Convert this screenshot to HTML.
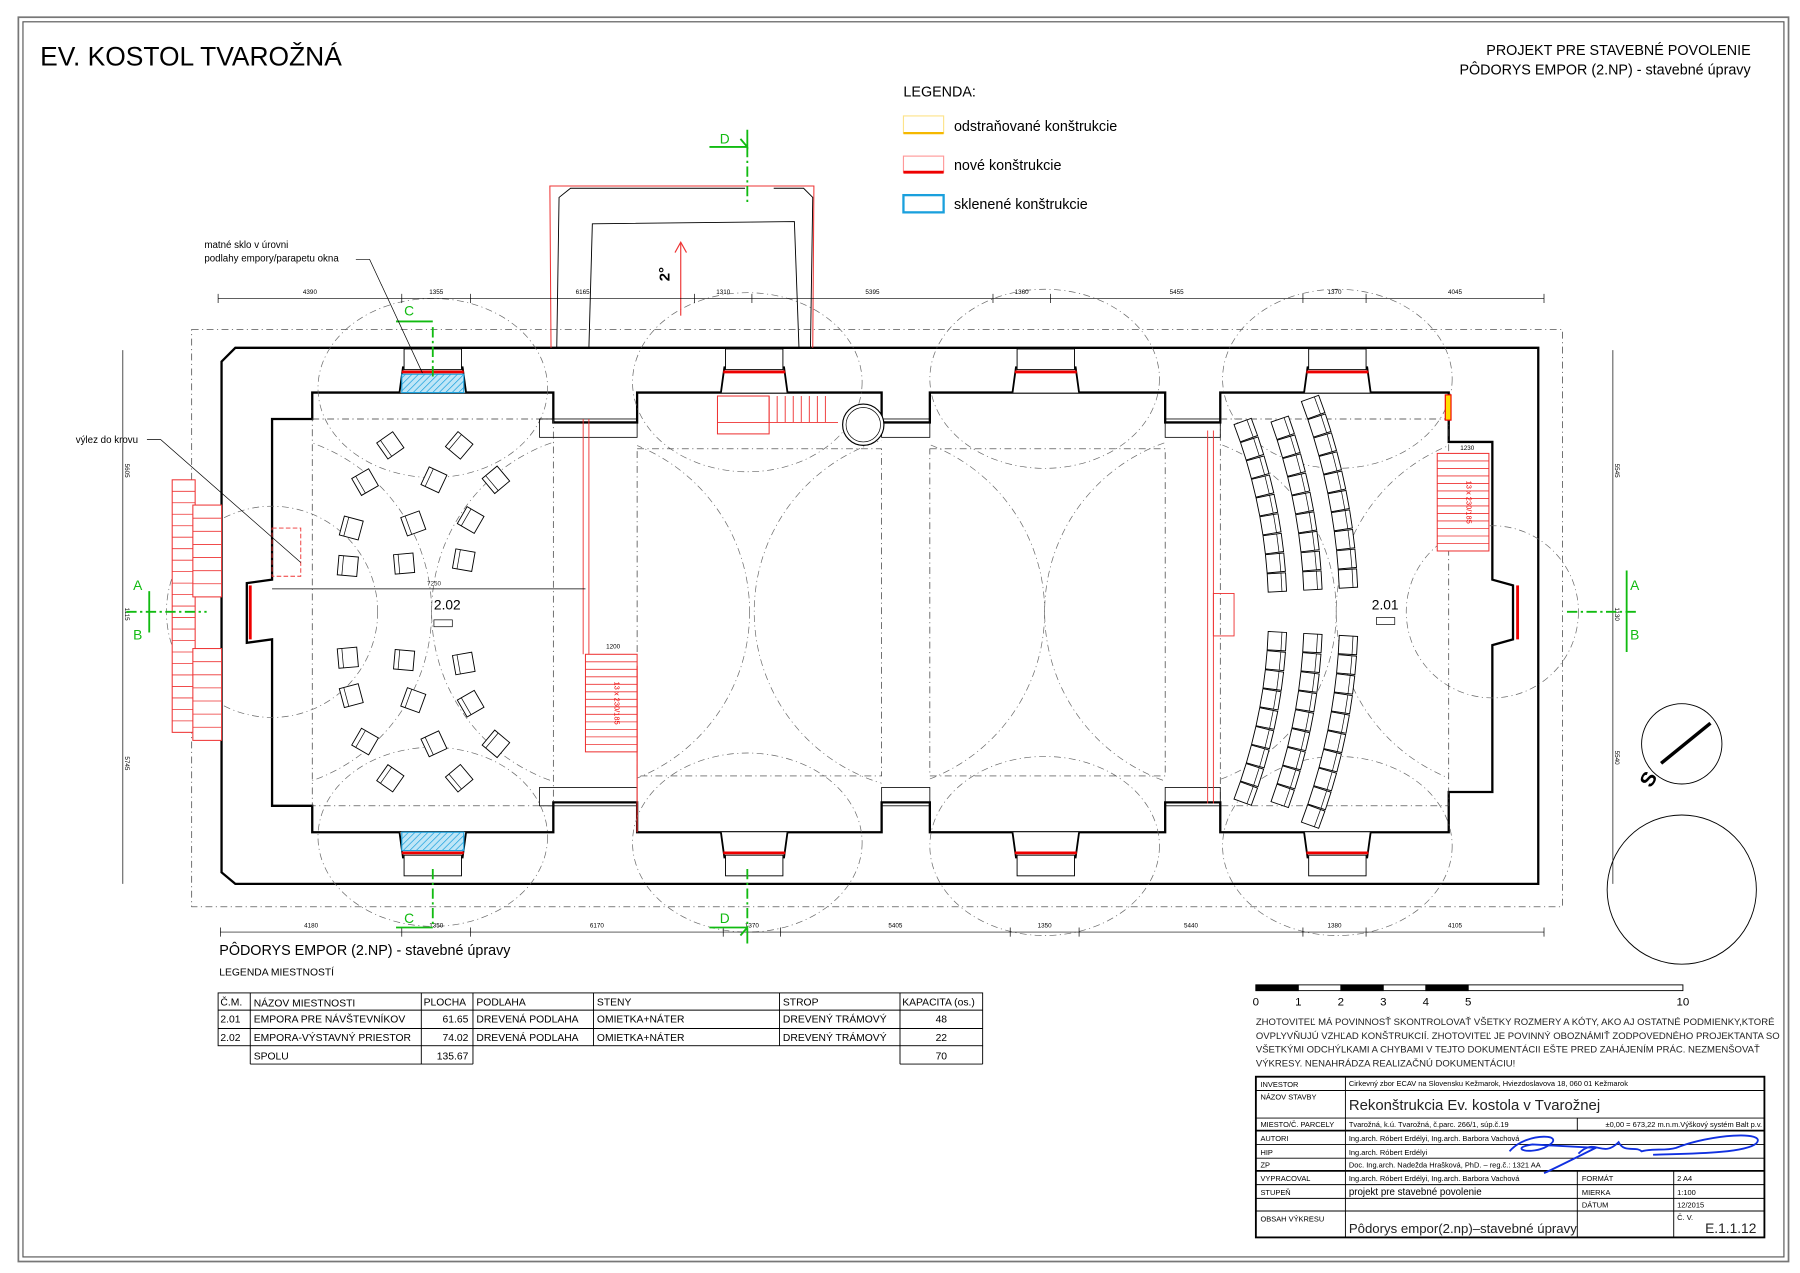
<!DOCTYPE html>
<html><head><meta charset="utf-8"><style>
html,body{margin:0;padding:0;background:#fff}
svg{display:block}
text{font-family:"Liberation Sans",sans-serif}
</style></head><body>
<svg id="s" width="1800" height="1273" viewBox="0 0 1568 1109" preserveAspectRatio="none" xmlns="http://www.w3.org/2000/svg">
<defs><pattern id="hatch" width="4" height="4" patternUnits="userSpaceOnUse" patternTransform="rotate(45)"><rect width="4" height="4" fill="#bfe6f7"/><line x1="0" y1="0" x2="0" y2="4" stroke="#1aa0dd" stroke-width="1.2"/></pattern>
<clipPath id="c1"><rect x="272" y="380" width="210" height="307"/></clipPath>
<clipPath id="c2"><rect x="555" y="380" width="213" height="307"/></clipPath>
<clipPath id="c3"><rect x="810" y="380" width="205" height="307"/></clipPath>
<clipPath id="c4"><rect x="1063" y="380" width="199" height="307"/></clipPath>
</defs>
<rect x="0" y="0" width="1568" height="1109" fill="#fff"/>
<rect x="16" y="15" width="1542" height="1084" fill="none" stroke="#777" stroke-width="1.5"/>
<rect x="20" y="19" width="1534" height="1076" fill="none" stroke="#555" stroke-width="1"/>
<text x="35" y="57" font-size="23">EV. KOSTOL TVAROŽNÁ</text>
<text x="1525" y="48" font-size="12.5" text-anchor="end">PROJEKT PRE STAVEBNÉ POVOLENIE</text>
<text x="1525" y="65" font-size="12.5" text-anchor="end">PÔDORYS EMPOR (2.NP) - stavebné úpravy</text>
<text x="787" y="84" font-size="12.5">LEGENDA:</text>
<rect x="787" y="101" width="35" height="15" fill="none" stroke="#fde38a" stroke-width="1"/><line x1="787" y1="116" x2="822" y2="116" stroke="#f5b800" stroke-width="2"/>
<text x="831" y="114" font-size="12.5">odstraňované konštrukcie</text>
<rect x="787" y="136" width="35" height="14" fill="none" stroke="#f99" stroke-width="1"/><line x1="787" y1="150" x2="822" y2="150" stroke="#e00" stroke-width="2.5"/>
<text x="831" y="148" font-size="12.5">nové konštrukcie</text>
<rect x="787" y="170" width="35" height="15" fill="none" stroke="#1aa0dd" stroke-width="2"/>
<text x="831" y="182" font-size="12.5">sklenené konštrukcie</text>
<g id="plan" fill="none"></g>
<text x="191" y="832" font-size="12.5">PÔDORYS EMPOR (2.NP) - stavebné úpravy</text>
<text x="191" y="850" font-size="9">LEGENDA MIESTNOSTÍ</text>
<g stroke="#000" stroke-width="0.8" fill="none">
<rect x="190" y="865" width="666" height="46"/>
<line x1="190" y1="880" x2="856" y2="880"/><line x1="190" y1="896" x2="856" y2="896"/>
<line x1="218" y1="865" x2="218" y2="927"/><line x1="367" y1="865" x2="367" y2="927"/><line x1="412" y1="865" x2="412" y2="927"/>
<line x1="517" y1="865" x2="517" y2="911"/><line x1="679" y1="865" x2="679" y2="911"/><line x1="784" y1="865" x2="784" y2="927"/>
<line x1="218" y1="927" x2="412" y2="927"/><line x1="784" y1="927" x2="856" y2="927"/><line x1="856" y1="911" x2="856" y2="927"/>
</g>
<g font-size="9">
<text x="192" y="876">Č.M.</text><text x="221" y="877">NÁZOV MIESTNOSTI</text><text x="369" y="876">PLOCHA</text><text x="415" y="876">PODLAHA</text><text x="520" y="876">STENY</text><text x="682" y="876">STROP</text><text x="786" y="876">KAPACITA (os.)</text>
<text x="192" y="891">2.01</text><text x="221" y="891">EMPORA PRE NÁVŠTEVNÍKOV</text><text x="408" y="891" text-anchor="end">61.65</text><text x="415" y="891">DREVENÁ PODLAHA</text><text x="520" y="891">OMIETKA+NÁTER</text><text x="682" y="891">DREVENÝ TRÁMOVÝ</text><text x="820" y="891" text-anchor="middle">48</text>
<text x="192" y="907">2.02</text><text x="221" y="907">EMPORA-VÝSTAVNÝ PRIESTOR</text><text x="408" y="907" text-anchor="end">74.02</text><text x="415" y="907">DREVENÁ PODLAHA</text><text x="520" y="907">OMIETKA+NÁTER</text><text x="682" y="907">DREVENÝ TRÁMOVÝ</text><text x="820" y="907" text-anchor="middle">22</text>
<text x="221" y="923">SPOLU</text><text x="408" y="923" text-anchor="end">135.67</text><text x="820" y="923" text-anchor="middle">70</text>
</g>
<g stroke="#000" stroke-width="0.8">
<rect x="1094" y="858" width="372" height="5" fill="#fff"/>
<rect x="1094" y="858" width="37" height="5" fill="#000"/><rect x="1168" y="858" width="37" height="5" fill="#000"/><rect x="1242" y="858" width="37" height="5" fill="#000"/>
</g>
<g font-size="10" text-anchor="middle"><text x="1094" y="876">0</text><text x="1131" y="876">1</text><text x="1168" y="876">2</text><text x="1205" y="876">3</text><text x="1242" y="876">4</text><text x="1279" y="876">5</text><text x="1466" y="876">10</text></g>
<g font-size="8.3" fill="#222"><text x="1094" y="893">ZHOTOVITEĽ MÁ POVINNOSŤ SKONTROLOVAŤ VŠETKY ROZMERY A KÓTY, AKO AJ OSTATNÉ PODMIENKY,KTORÉ</text>
<text x="1094" y="905">OVPLYVŇUJÚ VZHĽAD KONŠTRUKCIÍ. ZHOTOVITEĽ JE POVINNÝ OBOZNÁMIŤ ZODPOVEDNÉHO PROJEKTANTA SO</text>
<text x="1094" y="917">VŠETKÝMI ODCHÝLKAMI A CHYBAMI V TEJTO DOKUMENTÁCII EŠTE PRED ZAHÁJENÍM PRÁC. NEZMENŠOVAŤ</text>
<text x="1094" y="929">VÝKRESY. NENAHRÁDZA REALIZAČNÚ DOKUMENTÁCIU!</text></g>
<g stroke="#000" fill="none">
<rect x="1094" y="938" width="443" height="140" stroke-width="1.6"/>
<g stroke-width="0.8">
<line x1="1094" y1="950" x2="1537" y2="950"/><line x1="1094" y1="974" x2="1537" y2="974"/>
<line x1="1094" y1="985" x2="1537" y2="985" stroke-width="1.5"/>
<line x1="1094" y1="997" x2="1537" y2="997"/><line x1="1094" y1="1009" x2="1537" y2="1009"/>
<line x1="1094" y1="1020" x2="1537" y2="1020" stroke-width="1.5"/>
<line x1="1094" y1="1032" x2="1537" y2="1032"/><line x1="1094" y1="1044" x2="1537" y2="1044"/><line x1="1094" y1="1055" x2="1537" y2="1055"/>
<line x1="1172" y1="938" x2="1172" y2="1078"/>
<line x1="1374" y1="974" x2="1374" y2="985"/>
<line x1="1374" y1="1020" x2="1374" y2="1078"/><line x1="1458" y1="1020" x2="1458" y2="1078"/>
</g></g>
<g font-size="6.5" fill="#000">
<text x="1098" y="947">INVESTOR</text><text x="1175" y="946">Cirkevný zbor ECAV na Slovensku Kežmarok, Hviezdoslavova 18, 060 01 Kežmarok</text>
<text x="1098" y="958">NÁZOV STAVBY</text>
<text x="1098" y="982">MIESTO/Č. PARCELY</text><text x="1175" y="982">Tvarožná, k.ú. Tvarožná, č.parc. 266/1, súp.č.19</text><text x="1535" y="982" text-anchor="end">±0,00 = 673,22 m.n.m.Výškový systém Balt p.v.</text>
<text x="1098" y="994">AUTORI</text><text x="1175" y="994">Ing.arch. Róbert Erdélyi, Ing.arch. Barbora Vachová</text>
<text x="1098" y="1006">HIP</text><text x="1175" y="1006">Ing.arch. Róbert Erdélyi</text>
<text x="1098" y="1017">ZP</text><text x="1175" y="1017">Doc. Ing.arch. Nadežda Hrašková, PhD. – reg.č.: 1321 AA</text>
<text x="1098" y="1029">VYPRACOVAL</text><text x="1175" y="1029">Ing.arch. Róbert Erdélyi, Ing.arch. Barbora Vachová</text><text x="1378" y="1029">FORMÁT</text><text x="1461" y="1029">2 A4</text>
<text x="1098" y="1041">STUPEŇ</text><text x="1378" y="1041">MIERKA</text><text x="1461" y="1041">1:100</text>
<text x="1378" y="1052">DÁTUM</text><text x="1461" y="1052">12/2015</text>
<text x="1098" y="1064">OBSAH VÝKRESU</text><text x="1461" y="1063">Č. V.</text>
</g>
<text x="1175" y="967" font-size="13" fill="#222">Rekonštrukcia Ev. kostola v Tvarožnej</text>
<text x="1175" y="1041" font-size="8.5">projekt pre stavebné povolenie</text>
<text x="1175" y="1074" font-size="11.5" fill="#222">Pôdorys empor(2.np)–stavebné úpravy</text>
<text x="1530" y="1074" font-size="12" text-anchor="end" fill="#222">E.1.1.12</text>
<path d="M1315,1003 C1330,985 1370,988 1345,1000 C1330,1006 1315,1000 1335,997 L1390,1000 C1370,1010 1350,1020 1345,1022 M1375,1005 C1390,990 1395,1010 1410,995 C1415,1005 1425,998 1430,1003 C1440,1000 1450,1003 1460,1000 C1490,988 1540,985 1530,996 C1520,1005 1470,1005 1440,1006" fill="none" stroke="#1030e0" stroke-width="1.6"/>
<circle cx="1465" cy="648" r="35" fill="none" stroke="#000" stroke-width="0.8"/>
<line x1="1447" y1="665" x2="1490" y2="630" stroke="#000" stroke-width="3"/>
<text x="1433" y="690" font-size="18" font-weight="bold" transform="rotate(-60 1433 684)">S</text>
<circle cx="1465" cy="775" r="65" fill="none" stroke="#000" stroke-width="0.8"/>
</svg>
<script>
const g=document.getElementById('plan');const NS='http://www.w3.org/2000/svg';
function el(t,a,p){const e=document.createElementNS(NS,t);for(const k in a)e.setAttribute(k,a[k]);(p||g).appendChild(e);return e;}
function txt(x,y,s,sz,a){const e=el('text',Object.assign({x:x,y:y,'font-size':sz,fill:'#000'},a||{}));e.textContent=s;return e;}
const dash={stroke:'#666','stroke-width':0.6,'stroke-dasharray':'6 3 1 3',fill:'none'};
el('rect',Object.assign({x:167,y:287,width:1194,height:503},dash,{stroke:'#333'}));
el('path',{d:'M205,303 L1340,303 L1340,770 L205,770 L193,760 L193,315 Z',fill:'#fff',stroke:'#000','stroke-width':2});
el('path',{d:'M237,365 L272,365 L272,342 L482,342 L482,368 L555,368 L555,342 L768,342 L768,368 L810,368 L810,342 L1015,342 L1015,368 L1063,368 L1063,342 L1262,342 L1262,385 L1300,385 L1300,505 L1318,510 L1318,557 L1300,562 L1300,690 L1262,690 L1262,725 L1063,725 L1063,699 L1015,699 L1015,725 L810,725 L810,699 L768,699 L768,725 L555,725 L555,699 L482,699 L482,725 L272,725 L272,702 L237,702 L237,557 L215,560 L215,508 L237,505 Z',fill:'#fff',stroke:'#000','stroke-width':2});
[[377,338],[651,333],[910,330],[1165,330]].forEach(c=>{el('ellipse',Object.assign({cx:c[0],cy:c[1],rx:100,ry:78},dash));el('ellipse',Object.assign({cx:c[0],cy:1067-c[1],rx:100,ry:78},dash));});
el('circle',Object.assign({cx:237,cy:533,r:92},dash));el('circle',Object.assign({cx:1300,cy:533,r:75},dash));
[[1,220,532],[2,497,813],[3,754,1066],[4,1008,1320]].forEach(c=>{const gg=el('g',{'clip-path':`url(#c${c[0]})`});el('circle',Object.assign({cx:c[1],cy:533,r:156},dash),gg);el('circle',Object.assign({cx:c[2],cy:533,r:156},dash),gg);});
[[272,342,210,383],[555,368,213,331],[810,368,205,331],[1063,342,199,383]].forEach(r=>el('rect',Object.assign({x:r[0],y:r[1]+23,width:r[2],height:r[3]-46},dash,{stroke:'#333'})));
[[470,365,85,16],[470,686,85,16],[768,365,42,16],[768,686,42,16],[1015,365,48,16],[1015,686,48,16]].forEach(r=>el('rect',{x:r[0],y:r[1],width:r[2],height:r[3],fill:'none',stroke:'#000','stroke-width':0.7}));
function win(x,y,up,glass){const w=58;const d=up?1:-1;
 el('path',{d:`M${x},${y} L${x+3},${y-d*22} L${x+w-3},${y-d*22} L${x+w},${y}`,fill:'#fff',stroke:'#000','stroke-width':1.6});
 el('rect',{x:x+4,y:up?y-38:y+20,width:w-8,height:18,fill:'#fff',stroke:'#000','stroke-width':0.8});
 if(glass)el('rect',{x:x+2,y:up?y-16:y,width:w-4,height:16,fill:'url(#hatch)',stroke:'#1aa0dd','stroke-width':1});
 el('line',{x1:x+2,y1:y-d*18,x2:x+w-2,y2:y-d*18,stroke:'#e00','stroke-width':2.5});}
win(348,342,true,true);win(628,342,true,false);win(882,342,true,false);win(1136,342,true,false);
win(348,725,false,true);win(628,725,false,false);win(882,725,false,false);win(1136,725,false,false);
el('line',{x1:218,y1:510,x2:218,y2:557,stroke:'#e00','stroke-width':2.5});
el('line',{x1:1322,y1:510,x2:1322,y2:557,stroke:'#e00','stroke-width':2.5});
el('rect',{x:1259,y:344,width:5,height:22,fill:'#fd0',stroke:'#e00','stroke-width':1});
el('path',{d:'M480,303 L479,162 L709,162 L708,303',stroke:'#e33','stroke-width':0.9});
el('path',{d:'M485,303 L487,172 L497,164 L649,164 M674,164 L700,164 L708,172 L706,303 M513,303 L516,195 L692,193 L696,303',stroke:'#000','stroke-width':0.8});
el('line',{x1:593,y1:275,x2:593,y2:212,stroke:'#e33','stroke-width':1});el('path',{d:'M588,220 L593,211 L598,220',stroke:'#e33','stroke-width':1});
txt(583,245,'2°',13,{'font-weight':'bold',transform:'rotate(-90 583 245)'});
el('rect',{x:625,y:345,width:45,height:33,stroke:'#e33','stroke-width':0.9});
el('line',{x1:625,y1:368,x2:670,y2:368,stroke:'#e33','stroke-width':0.8});
el('line',{x1:670,y1:368,x2:730,y2:368,stroke:'#e33','stroke-width':0.8});
for(let i=0;i<8;i++)el('line',{x1:670+i*7,y1:345,x2:670+i*7,y2:368,stroke:'#e33','stroke-width':0.8});
el('circle',{cx:752,cy:370,r:18,stroke:'#000','stroke-width':1,fill:'#fff'});el('circle',{cx:752,cy:370,r:15,stroke:'#000','stroke-width':0.6});
function stair(x,y,w,h,n,lab){el('rect',{x:x,y:y,width:w,height:h,stroke:'#e33','stroke-width':0.9,fill:'#fff'});for(let i=1;i<n;i++)el('line',{x1:x,y1:y+i*h/n,x2:x+w,y2:y+i*h/n,stroke:'#e33','stroke-width':0.7});
 if(lab)txt(x+w/2+3,y+h/2,lab,6.5,{fill:'#e00',transform:`rotate(90 ${x+w/2+3} ${y+h/2})`,'text-anchor':'middle'});}
stair(510,570,45,85,13,'13 x 230/185');stair(1252,395,45,85,13,'13 x 230/185');
stair(150,418,20,220,22);stair(168,440,25,80,7);stair(168,565,25,80,7);
el('line',{x1:513,y1:365,x2:513,y2:570,stroke:'#e33','stroke-width':0.8});el('line',{x1:508,y1:365,x2:508,y2:570,stroke:'#e33','stroke-width':0.8});
el('line',{x1:1052,y1:375,x2:1052,y2:700,stroke:'#e33','stroke-width':0.8});el('line',{x1:1057,y1:375,x2:1057,y2:700,stroke:'#e33','stroke-width':0.8});
el('rect',{x:1057,y:517,width:18,height:37,stroke:'#e33','stroke-width':0.8});
el('rect',{x:237,y:460,width:25,height:42,stroke:'#e33','stroke-width':0.8,'stroke-dasharray':'4 2'});
el('line',{x1:555,y1:580,x2:555,y2:725,stroke:'#e33','stroke-width':1});
el('line',{x1:237,y1:513,x2:510,y2:513,stroke:'#000','stroke-width':0.6});
txt(372,510,'7250',5.5,{fill:'#333'});txt(378,531,'2.02',12);el('rect',{x:378,y:540,width:16,height:6,stroke:'#000','stroke-width':0.6});
txt(1195,531,'2.01',12);el('rect',{x:1199,y:538,width:16,height:6,stroke:'#000','stroke-width':0.6});
txt(528,565,'1200',5.5);txt(1272,392,'1230',5.5);
function chair(cx,cy,a,s){const gg=el('g',{transform:`translate(${cx},${cy}) rotate(${a})`});el('rect',{x:-s/2,y:-s/2,width:s,height:s,stroke:'#000','stroke-width':0.8,fill:'#fff'},gg);el('line',{x1:-s/2+4,y1:-s/2,x2:-s/2+4,y2:s/2,stroke:'#000','stroke-width':0.6},gg);}
[[340,388,-35],[400,388,40],[318,420,-30],[378,418,25],[432,418,-40],[306,460,15],[360,456,-20],[410,453,30],[303,493,5],[352,491,-5],[404,488,10]].forEach(c=>{chair(c[0],c[1],c[2],17);chair(c[0],1066-c[1],-c[2],17);});
[465,496,527].forEach(R=>{const st=17/R;for(const sgn of [1,-1]){for(let a=0.055;a<0.36;a+=st){const x=648+R*Math.cos(a),y=533-sgn*R*Math.sin(a);chair(x,y,-sgn*a*57.3+180,16);}}});
function dimH(y,xs,labs){el('line',{x1:xs[0],y1:y,x2:xs[xs.length-1],y2:y,stroke:'#000','stroke-width':0.6});xs.forEach(x=>el('line',{x1:x,y1:y-4,x2:x,y2:y+4,stroke:'#000','stroke-width':0.6}));labs.forEach((l,i)=>txt((xs[i]+xs[i+1])/2,y-4,l,5.5,{'text-anchor':'middle'}));}
dimH(260,[190,350,410,605,655,865,915,1135,1190,1345],['4390','1355','6165','1310','5395','1360','5455','1370','4045']);
dimH(812,[192,350,410,630,680,880,940,1135,1190,1345],['4180','1350','6170','1370','5405','1350','5440','1380','4105']);
el('line',{x1:107,y1:305,x2:107,y2:770,stroke:'#000','stroke-width':0.6});
el('line',{x1:1405,y1:305,x2:1405,y2:770,stroke:'#000','stroke-width':0.6});
[[107,410,'5605'],[107,535,'1115'],[107,665,'5745'],[1405,410,'5545'],[1405,535,'1130'],[1405,660,'5540']].forEach(d=>txt(d[0]+2,d[1],d[2],5.5,{transform:`rotate(90 ${d[0]+2} ${d[1]})`,'text-anchor':'middle'}));
const G={stroke:'#1b1','stroke-width':1.6,fill:'none'};
function gtxt(x,y,s){txt(x,y,s,12,{fill:'#1b1'});}
el('line',Object.assign({x1:651,y1:128,x2:651,y2:178,'stroke-dasharray':'9 3 2 3'},G));el('line',Object.assign({x1:618,y1:128,x2:651,y2:128},G));el('path',Object.assign({d:'M645,121 L651,128 L651,113'},G));gtxt(627,125,'D');
el('line',Object.assign({x1:651,y1:757,x2:651,y2:808,'stroke-dasharray':'9 3 2 3'},G));el('line',Object.assign({x1:618,y1:808,x2:651,y2:808},G));el('path',Object.assign({d:'M645,815 L651,808 L651,822'},G));gtxt(627,804,'D');
el('line',Object.assign({x1:377,y1:285,x2:377,y2:330,'stroke-dasharray':'9 3 2 3'},G));el('line',Object.assign({x1:345,y1:280,x2:377,y2:280},G));gtxt(352,275,'C');
el('line',Object.assign({x1:377,y1:757,x2:377,y2:808,'stroke-dasharray':'9 3 2 3'},G));el('line',Object.assign({x1:345,y1:808,x2:377,y2:808},G));gtxt(352,804,'C');
el('line',Object.assign({x1:110,y1:533,x2:180,y2:533,'stroke-dasharray':'9 3 2 3'},G));el('line',Object.assign({x1:130,y1:515,x2:130,y2:551},G));gtxt(116,514,'A');gtxt(116,557,'B');
el('line',Object.assign({x1:1365,y1:533,x2:1425,y2:533,'stroke-dasharray':'9 3 2 3'},G));el('line',Object.assign({x1:1417,y1:497,x2:1417,y2:568},G));gtxt(1420,514,'A');gtxt(1420,557,'B');
txt(178,216,'matné sklo v úrovni',8.5);txt(178,228,'podlahy empory/parapetu okna',8.5);
el('path',{d:'M310,226 L322,226 L368,325',stroke:'#000','stroke-width':0.6});
txt(66,386,'výlez do krovu',8.5);el('path',{d:'M128,383 L140,383 L262,490',stroke:'#000','stroke-width':0.6});
</script>
</body></html>
